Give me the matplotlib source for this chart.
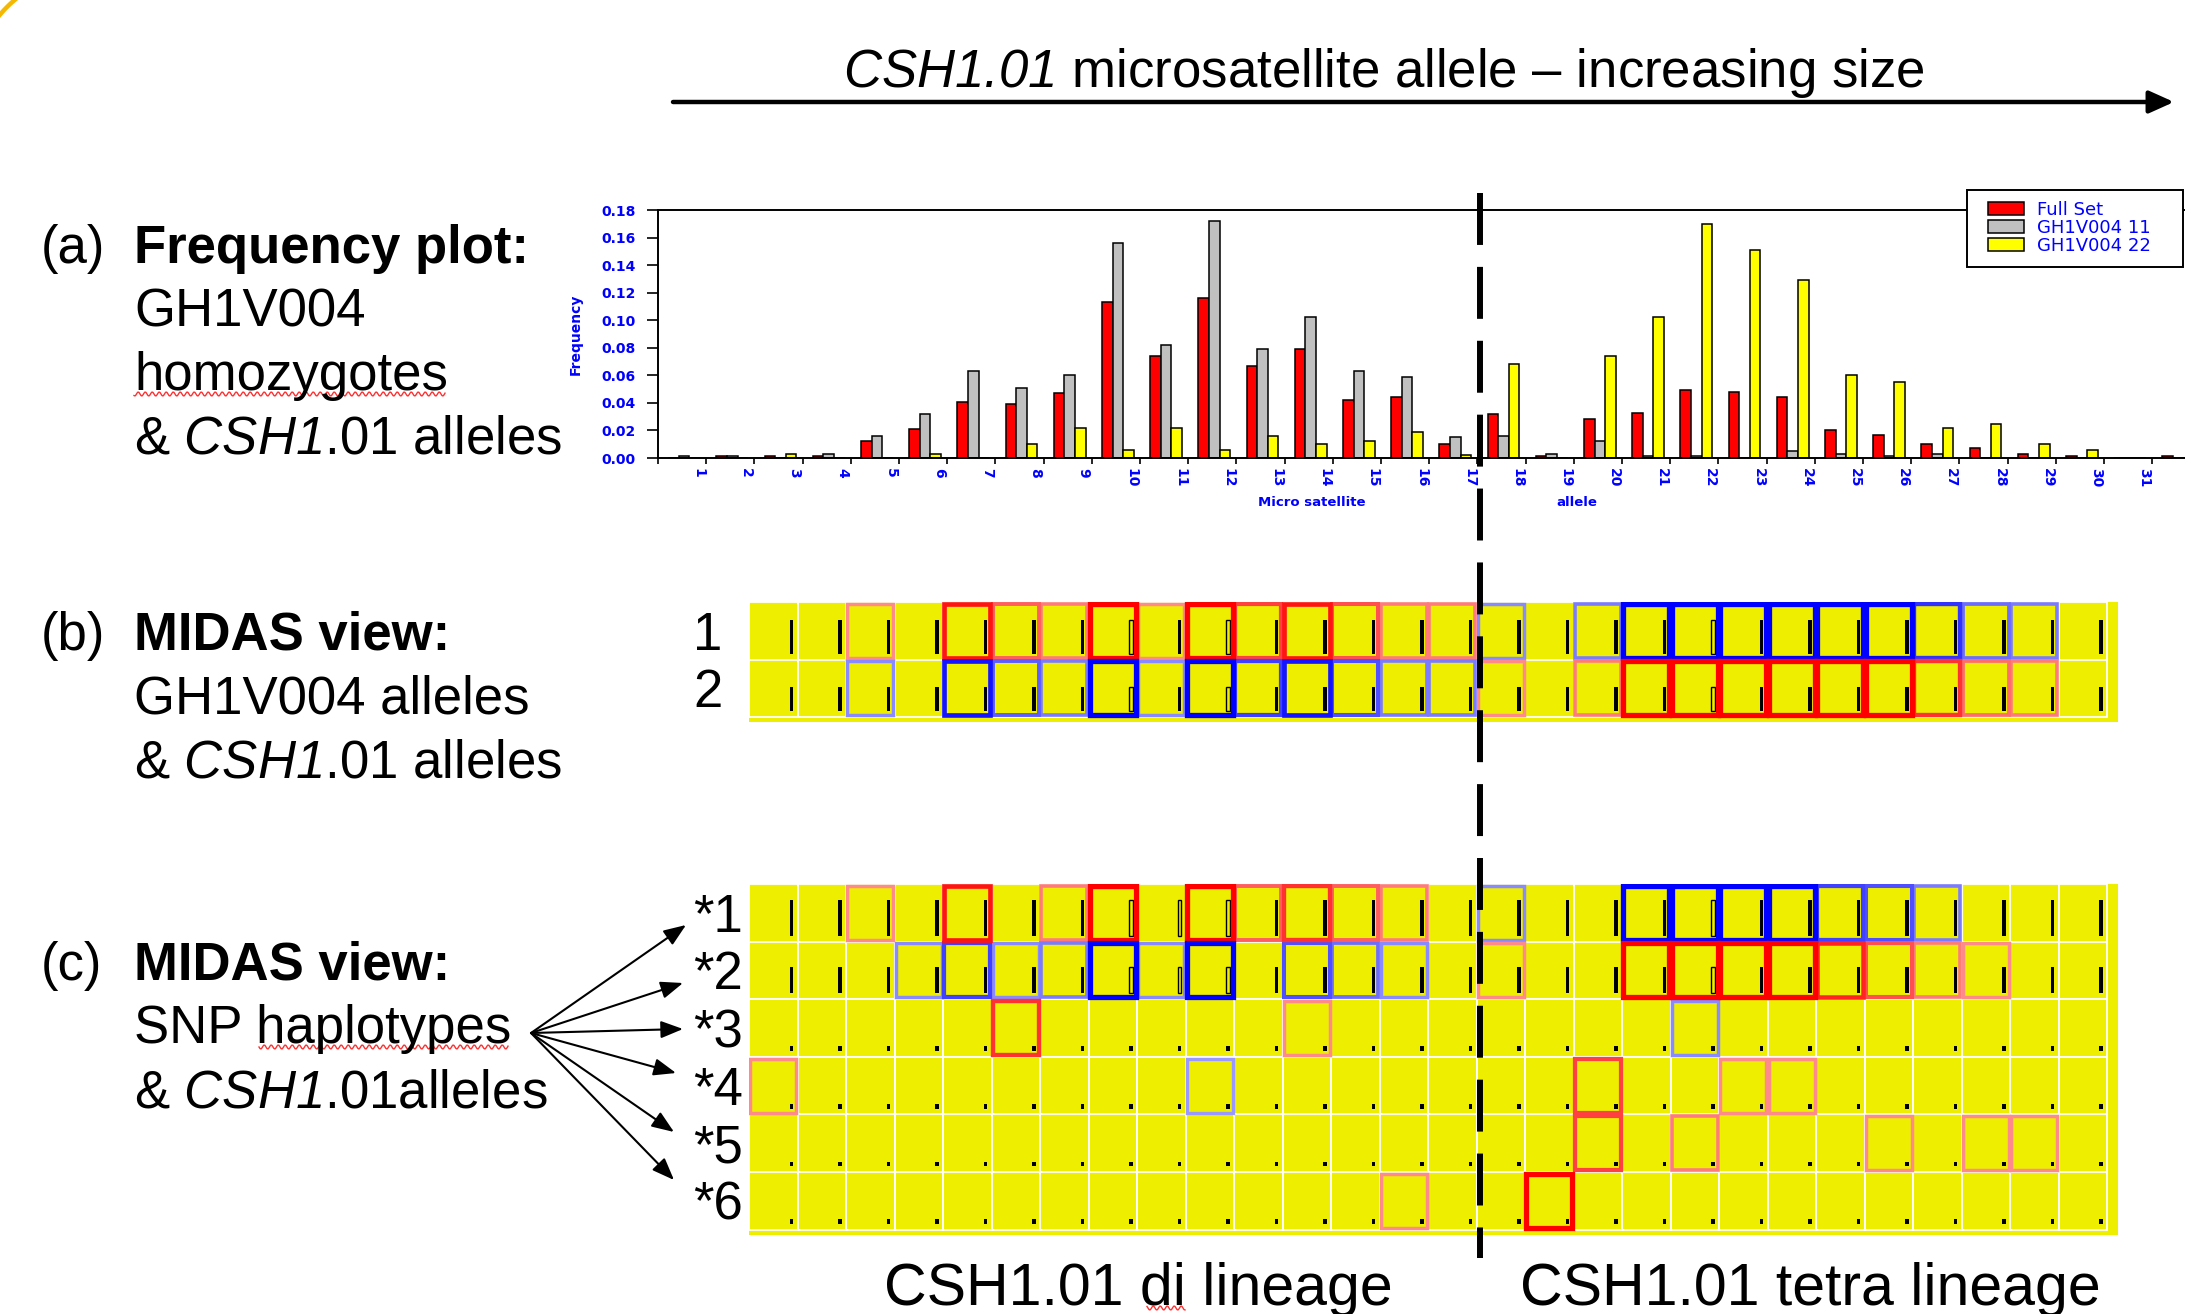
import numpy as np
import matplotlib.pyplot as plt
from matplotlib.patches import Rectangle
from matplotlib.ticker import FormatStrFormatter
from matplotlib.transforms import blended_transform_factory

plt.rcParams['font.family'] = ['Liberation Sans', 'DejaVu Sans']
# mathtext is only used for the italic gene name, so its "rm" font is the italic face
plt.rcParams['mathtext.fontset'] = 'custom'
plt.rcParams['mathtext.rm'] = 'Liberation Sans:italic'
plt.rcParams['mathtext.it'] = 'Liberation Sans:italic'
plt.rcParams['mathtext.bf'] = 'Liberation Sans:bold'
plt.rcParams['lines.scale_dashes'] = False

# ---- data: frequency plot ----
alleles = list(range(1, 33))
full_set = [0, .0015, .0015, .0015, .012, .021, .041, .039, .047, .113, .074, .116, .067, .079, .042, .044,
            .010, .032, .0015, .028, .033, .049, .048, .044, .020, .017, .010, .007, .003, .0015, 0, .0015]
gh_11 = [.0015, .0015, 0, .003, .016, .032, .063, .051, .060, .156, .082, .172, .079, .102, .063, .059,
         .015, .016, .003, .012, .0015, .0015, 0, .005, .003, .0015, .003, 0, 0, 0, 0, 0]
gh_22 = [0, 0, .003, 0, 0, .003, 0, .010, .022, .006, .022, .006, .016, .010, .012, .019,
         .002, .068, 0, .074, .102, .170, .151, .129, .060, .055, .022, .025, .010, .006, 0, 0]
series_names = ['Full Set', 'GH1V004 11', 'GH1V004 22']
y_ticks = [0.00, 0.02, 0.04, 0.06, 0.08, 0.10, 0.12, 0.14, 0.16, 0.18]
x_labels = [str(k) for k in range(1, 32)]

# ---- data: MIDAS views (+ red association, - blue association) ----
midas_b_rows = ['1', '2']
midas_b = [
    [0, 0, .4, 0, .8, .55, .45, 1, .4, 1, .65, .8, .6, .45, .45, -.4, 0, -.45, -1, -1, -1, -1, -1, -1, -.7, -.5, -.45, 0],
    [0, 0, -.4, 0, -.8, -.55, -.45, -1, -.4, -1, -.65, -.8, -.6, -.45, -.45, .4, 0, .45, 1, 1, 1, 1, 1, 1, .7, .5, .45, 0],
]
midas_b_bar = [0.58, 0.42]
midas_b_hollow = [7, 9, 19]

midas_c_rows = ['*1', '*2', '*3', '*4', '*5', '*6']
midas_c = [
    [0, 0, .4, 0, .8, 0, .45, 1, 0, 1, .55, .7, .55, .45, 0, -.4, 0, 0, -1, -1, -1, -1, -.65, -.6, -.45, 0, 0, 0],
    [0, 0, 0, -.4, -.65, -.4, -.45, -1, -.4, -1, 0, -.6, -.5, -.4, 0, .4, 0, 0, 1, 1, 1, 1, .75, .6, .45, .4, 0, 0],
    [0, 0, 0, 0, 0, .7, 0, 0, 0, 0, 0, .4, 0, 0, 0, 0, 0, 0, 0, -.4, 0, 0, 0, 0, 0, 0, 0, 0],
    [.4, 0, 0, 0, 0, 0, 0, 0, 0, -.35, 0, 0, 0, 0, 0, 0, 0, .65, 0, 0, .4, .4, 0, 0, 0, 0, 0, 0],
    [0, 0, 0, 0, 0, 0, 0, 0, 0, 0, 0, 0, 0, 0, 0, 0, 0, .65, 0, .45, 0, 0, 0, .4, 0, .4, .4, 0],
    [0, 0, 0, 0, 0, 0, 0, 0, 0, 0, 0, 0, 0, .4, 0, 0, 1, 0, 0, 0, 0, 0, 0, 0, 0, 0, 0, 0],
]
midas_c_bar = [0.62, 0.46, 0.08, 0.08, 0.08, 0.08]
midas_c_hollow = [7, 8, 9, 19]

# ---- layout (pixels) ----
W, H = 2185, 1314
GRID_X0, GRID_X1, COL_W = 749, 2118, 48.5
YELLOW = '#eeee00'


def fig_rect(x0, y0, x1, y1):
    return [x0 / W, 1 - y1 / H, (x1 - x0) / W, (y1 - y0) / H]


fig = plt.figure(figsize=(W / 100, H / 100), dpi=100)

# ---- (a) frequency plot ----
ax = fig.add_axes(fig_rect(658, 210, 2185, 458))
xc = np.array(alleles) - 0.46
bw = 0.22
cols = ['#ff0000', '#c0c0c0', '#ffff00']
for i, vals in enumerate([full_set, gh_11, gh_22]):
    ax.bar(xc + (i - 1) * bw, vals, bw, color=cols[i], edgecolor='black', linewidth=1.1,
           label=series_names[i])
ax.set_xlim(0, 31.68)
ax.set_ylim(0, 0.18)
ax.spines['right'].set_visible(False)
for s in ['left', 'bottom', 'top']:
    ax.spines[s].set_linewidth(1.4)
ax.set_yticks(y_ticks)
ax.yaxis.set_major_formatter(FormatStrFormatter('%.2f'))
ax.tick_params(axis='y', length=8, width=1.2, pad=8, labelcolor='blue', labelsize=10,
               labelfontfamily='DejaVu Sans')
ax.set_xticks(np.arange(0, 32))
ax.set_xticklabels([])
ax.set_xticks(np.arange(1, 32) - 0.17, x_labels, minor=True)
ax.tick_params(axis='x', which='major', length=4, width=1.2)
ax.tick_params(axis='x', which='minor', length=0, pad=7, labelsize=10, labelcolor='blue',
               labelrotation=-90, labelfontfamily='DejaVu Sans')
for t in ax.get_yticklabels() + ax.get_xticklabels(minor=True):
    t.set_fontweight('bold')
ax.set_ylabel('Frequency', color='blue', fontsize=10, fontweight='bold', family='DejaVu Sans')
ax.yaxis.set_label_coords((583 - 658) / 1527, 0.5)

# legend: white framed box drawn behind the (frameless) legend entries
ax.add_patch(Rectangle((1967 / W, 1 - 267 / H), 216 / W, 77 / H, transform=fig.transFigure,
                       facecolor='white', edgecolor='black', lw=1.4, zorder=4, clip_on=False))
ax.legend(loc='upper left', bbox_to_anchor=(1988 / W, 1 - 201 / H), bbox_transform=fig.transFigure,
          frameon=False, borderpad=0, borderaxespad=0, handlelength=2.0, handleheight=0.75,
          handletextpad=0.7, labelspacing=0.0, prop={'family': 'DejaVu Sans', 'size': 13},
          labelcolor='blue')


# ---- MIDAS grids ----
def draw_midas(top, row_h, cells, bars, hollow):
    nrows, ncols = len(cells), len(cells[0])
    bottom = top + nrows * row_h + 5
    g = fig.add_axes(fig_rect(GRID_X0, top, GRID_X1, bottom))
    g.set_facecolor(YELLOW)
    g.set_xlim(0, (GRID_X1 - GRID_X0) / COL_W)
    g.set_ylim((bottom - top) / row_h, 0)
    g.set_xticks([])
    g.set_yticks([])
    for sp in g.spines.values():
        sp.set_visible(False)
    for r in range(nrows):
        for c in range(ncols):
            g.add_patch(Rectangle((c, r), 1, 1, facecolor=YELLOW, edgecolor='white', lw=1.3, zorder=1))
            h = bars[r]
            hol = (c in hollow) and r < 2
            g.add_patch(Rectangle((c + 0.84, r + 0.9 - h), 0.075, h,
                                  facecolor=YELLOW if hol else 'black', edgecolor='black',
                                  lw=1.0 if hol else 0, zorder=2))
    boxes = [(abs(cells[r][c]), r, c) for r in range(nrows) for c in range(ncols) if cells[r][c] != 0]
    boxes.sort()
    for k, (a, r, c) in enumerate(boxes):
        m = min(1.0, a * 1.15)
        col = (1, 1 - m, 1 - m) if cells[r][c] > 0 else (1 - m, 1 - m, 1)
        g.add_patch(Rectangle((c + 0.03, r + 0.03), 0.94, 0.94, fill=False, edgecolor=col,
                              lw=1.6 + 2.2 * a, zorder=3 + k * 0.001))
    return g


B_TOP, B_ROW = 602, 57.5
C_TOP, C_ROW = 884, 57.6
gb = draw_midas(B_TOP, B_ROW, midas_b, midas_b_bar, midas_b_hollow)
gc = draw_midas(C_TOP, C_ROW, midas_c, midas_c_bar, midas_c_hollow)

# ---- overlay: texts, arrows, divider ----
ov = fig.add_axes([0, 0, 1, 1], zorder=10)
ov.set_xlim(0, W)
ov.set_ylim(H, 0)
ov.axis('off')
ov.patch.set_alpha(0)

# slide decoration in the top-left corner
t = np.radians(np.linspace(-122, -148, 40))
ov.plot(100 + 131.5 * np.cos(t), 100 + 131.5 * np.sin(t), color='#f5b800', lw=3.2)

FS = 38
ov.text(843, 87, r'$\mathrm{CSH1.01}$ microsatellite allele – increasing size', fontsize=FS, va='baseline')
ov.annotate('', xy=(2174, 102), xytext=(673, 102),
            arrowprops=dict(arrowstyle='-|>,head_length=1.0,head_width=0.45', mutation_scale=15,
                            lw=3.2, color='black', shrinkA=0, shrinkB=0))

blocks = [
    ('(a)', 'Frequency plot:', ['GH1V004', 'homozygotes', r'& $\mathrm{CSH1}$.01 alleles'], 263),
    ('(b)', 'MIDAS view:', ['GH1V004 alleles', r'& $\mathrm{CSH1}$.01 alleles'], 650),
    ('(c)', 'MIDAS view:', ['SNP haplotypes', r'& $\mathrm{CSH1}$.01alleles'], 980),
]
for tag, head, lines, base in blocks:
    ov.text(41, base, tag, fontsize=FS, va='baseline')
    ov.text(134, base, head, fontsize=FS, fontweight='bold', va='baseline')
    for i, ln in enumerate(lines):
        ov.text(134, base + 63.5 * (i + 1), ln, fontsize=FS, va='baseline')

# x-axis caption of the frequency plot
ov.text(1312, 503, 'Micro satellite', fontsize=9.5, fontweight='bold', color='blue',
        family='DejaVu Sans', ha='center', va='center')
ov.text(1577, 503, 'allele', fontsize=9.5, fontweight='bold', color='blue',
        family='DejaVu Sans', ha='center', va='center')


def wavy(x0, x1, y):
    xs = np.arange(x0, x1, 1.0)
    ov.plot(xs, y + 2.0 * np.sin(xs * 2 * np.pi / 7), color='#ff3030', lw=1.0)


wavy(134, 446, 394)
wavy(259, 509, 1047)
wavy(1147, 1186, 1308)

for r, lab in enumerate(midas_b_rows):
    ov.text(708, B_TOP + (r + 0.5) * B_ROW + 19, lab, fontsize=FS, ha='center', va='baseline')
for r, lab in enumerate(midas_c_rows):
    ov.text(693, C_TOP + (r + 0.5) * C_ROW + 19, lab, fontsize=FS, ha='left', va='baseline')

arrow_tips = [(686, 925), (683, 983), (683, 1029), (676, 1073), (674, 1132), (674, 1180)]
for tip in arrow_tips:
    ov.annotate('', xy=tip, xytext=(531, 1033),
                arrowprops=dict(arrowstyle='-|>,head_length=0.9,head_width=0.35', mutation_scale=15,
                                lw=1.5, color='black', shrinkA=0, shrinkB=0))

ov.text(884, 1305, 'CSH1.01 di lineage', fontsize=42.5, va='baseline')
ov.text(1520, 1305, 'CSH1.01 tetra lineage', fontsize=42.5, va='baseline')

# divider between di and tetra lineage (between alleles 17 and 18)
trans = blended_transform_factory(ax.transData, ov.transData)
ov.plot([17.05, 17.05], [193, 1258], transform=trans, color='black', lw=4.3,
        ls=(0, (37.4, 15.8)), clip_on=False)
ov.set_xlim(0, W)
ov.set_ylim(H, 0)

fig.savefig('out.png', dpi=100)
